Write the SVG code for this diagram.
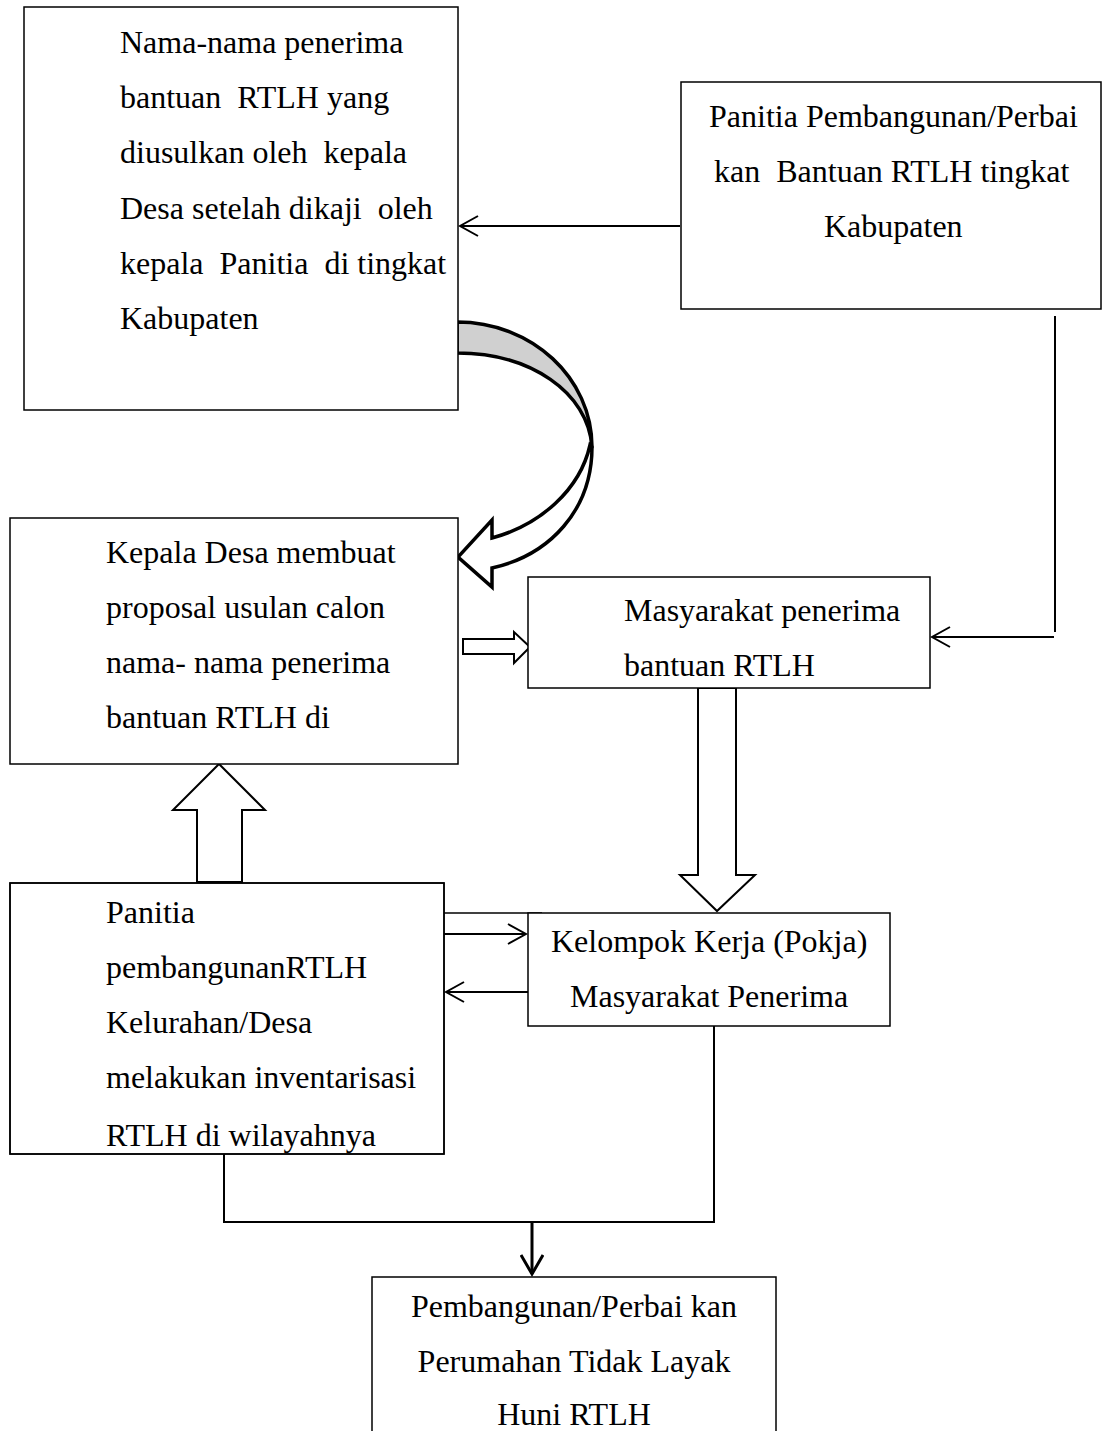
<svg xmlns="http://www.w3.org/2000/svg" width="1102" height="1431" viewBox="0 0 1102 1431">
<style>
.box{fill:#fff;stroke:#000;stroke-width:1.5}
.t{font-family:"Liberation Serif","Times New Roman",serif;font-size:32px;fill:#000}
.ln{fill:none;stroke:#000;stroke-width:2}
.blk{fill:#fff;stroke:#000;stroke-width:2;stroke-linejoin:miter}
</style>
<defs>
<marker id="open" viewBox="0 0 22 22" refX="20" refY="11" markerWidth="22" markerHeight="22" markerUnits="userSpaceOnUse" orient="auto">
<path d="M2,1 L20,11 L2,21" fill="none" stroke="#000" stroke-width="2"/>
</marker>
<marker id="openB" viewBox="0 0 24 24" refX="21" refY="12" markerWidth="24" markerHeight="24" markerUnits="userSpaceOnUse" orient="auto">
<path d="M2,1 L21,12 L2,23" fill="none" stroke="#000" stroke-width="3"/>
</marker>
<clipPath id="c6"><rect x="10" y="883" width="434" height="270"/></clipPath>
</defs>
<rect width="1102" height="1431" fill="#fff"/>

<g id="connectors">
<line class="ln" x1="680" y1="226" x2="460" y2="226" marker-end="url(#open)"/>
<line class="ln" x1="1055" y1="316" x2="1055" y2="632"/>
<line class="ln" x1="1054" y1="637" x2="932" y2="637" marker-end="url(#open)"/>
<line x1="444" y1="913" x2="542" y2="913" stroke="#000" stroke-width="1.5"/>
<line class="ln" x1="444" y1="934" x2="526" y2="934" marker-end="url(#open)"/>
<line class="ln" x1="532" y1="992" x2="446" y2="992" marker-end="url(#open)"/>
<polyline class="ln" points="224,1154 224,1222 714,1222 714,1026"/>
<line x1="532" y1="1222" x2="532" y2="1274" stroke="#000" stroke-width="3" marker-end="url(#openB)"/>
<path id="curved-arrow-back" d="M457,322 C532,322 592,378 592,447 C588,392 530,353 457,353 Z" fill="#d0d0d0" stroke="#000" stroke-width="3.5" stroke-linejoin="round"/>
<path id="curved-arrow-front" d="M590,445 C580,490 540,525 492,538 L492,520 L458,557 L492,587 L492,568 C550,555 592,510 592,447 Z" fill="#fff" stroke="#000" stroke-width="3.5" stroke-linejoin="miter"/>
<path id="block-right" class="blk" d="M463,639 L514,639 L514,632 L530,647 L514,663 L514,654 L463,654 Z"/>
<path id="block-down" class="blk" d="M698,688 L736,688 L736,875 L755,875 L717,911 L680,875 L698,875 Z"/>
<path id="block-up" class="blk" d="M197,882 L197,810 L173,810 L219,764 L265,810 L242,810 L242,882 Z"/>
</g>

<g id="node1">
<rect class="box" x="24" y="7" width="434" height="403"/>
<text class="t" x="120" y="53">Nama-nama penerima</text>
<text class="t" x="120" y="108" xml:space="preserve">bantuan  RTLH yang</text>
<text class="t" x="120" y="163" xml:space="preserve">diusulkan oleh  kepala</text>
<text class="t" x="120" y="219" xml:space="preserve">Desa setelah dikaji  oleh</text>
<text class="t" x="120" y="274" xml:space="preserve">kepala  Panitia  di tingkat</text>
<text class="t" x="120" y="329">Kabupaten</text>
</g>

<g id="node2">
<rect class="box" x="681" y="82" width="420" height="227"/>
<text class="t" x="709" y="127">Panitia Pembangunan/Perbai</text>
<text class="t" x="714" y="182" xml:space="preserve">kan  Bantuan RTLH tingkat</text>
<text class="t" x="824" y="237">Kabupaten</text>
</g>

<g id="node3">
<rect class="box" x="10" y="518" width="448" height="246"/>
<text class="t" x="106" y="563">Kepala Desa membuat</text>
<text class="t" x="106" y="618">proposal usulan calon</text>
<text class="t" x="106" y="673">nama- nama penerima</text>
<text class="t" x="106" y="728">bantuan RTLH di</text>
</g>

<g id="node4">
<rect class="box" x="528" y="577" width="402" height="111"/>
<text class="t" x="624" y="621">Masyarakat penerima</text>
<text class="t" x="624" y="676">bantuan RTLH</text>
</g>

<g id="node5">
<rect class="box" x="528" y="913" width="362" height="113"/>
<text class="t" x="551" y="952">Kelompok Kerja (Pokja)</text>
<text class="t" x="570" y="1007">Masyarakat Penerima</text>
</g>

<g id="node6">
<rect class="box" x="10" y="883" width="434" height="271"/>
<g clip-path="url(#c6)">
<text class="t" x="106" y="923">Panitia</text>
<text class="t" x="106" y="978">pembangunanRTLH</text>
<text class="t" x="106" y="1033">Kelurahan/Desa</text>
<text class="t" x="106" y="1088">melakukan inventarisasi</text>
<text class="t" x="106" y="1146">RTLH di wilayahnya</text>
</g>
<rect x="10" y="883" width="434" height="271" fill="none" stroke="#000" stroke-width="1.5"/>
</g>

<g id="node7">
<rect class="box" x="372" y="1277" width="404" height="160"/>
<text class="t" x="574" y="1317" text-anchor="middle">Pembangunan/Perbai kan</text>
<text class="t" x="574" y="1372" text-anchor="middle">Perumahan Tidak Layak</text>
<text class="t" x="574" y="1425" text-anchor="middle">Huni RTLH</text>
</g>
</svg>
